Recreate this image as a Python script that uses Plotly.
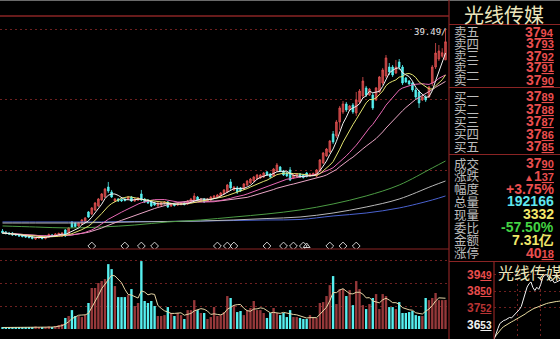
import numpy as np
import pandas as pd
import plotly.graph_objects as go

# ---------------- daily K-line data ----------------
opens = [14.25, 14.13, 14.00, 14.00, 13.81, 13.75, 13.69, 13.63, 13.50, 13.50,
         13.25, 13.38, 13.44, 13.31, 13.50, 13.75, 13.63, 13.81, 13.63, 14.38,
         13.88, 15.38, 15.25, 14.88, 15.13, 15.38, 16.63, 16.38, 16.88, 17.38,
         18.13, 18.50, 19.75, 19.13, 18.00, 18.25, 18.19, 18.25, 18.25, 18.50,
         18.00, 18.13, 18.88, 18.25, 18.13, 18.00, 17.75, 17.38, 17.50, 17.69,
         17.88, 17.38, 17.63, 17.50, 17.56, 17.75, 17.63, 17.88, 18.13, 18.50,
         18.00, 18.25, 18.00, 18.13, 18.38, 18.50, 18.63, 18.88, 19.13, 20.38,
         19.38, 19.63, 19.63, 19.50, 20.00, 20.25, 20.50, 20.75, 20.88, 21.00,
         21.63, 21.38, 21.13, 21.75, 22.25, 21.75, 21.50, 21.88, 20.88, 21.13,
         21.38, 21.25, 21.50, 21.13, 21.25, 21.13, 21.75, 22.75, 23.63, 24.13,
         26.38, 26.13, 27.88, 29.13, 30.13, 29.38, 30.00, 29.00, 30.38, 31.13,
         32.13, 31.25, 31.25, 30.63, 31.63, 32.75, 33.63, 34.75, 34.75, 34.00,
         35.38, 34.75, 33.38, 33.00, 32.75, 31.88, 31.63, 30.63, 31.00, 31.00,
         32.75, 34.75, 35.75, 36.10, 35.65]
closes = [14.00, 13.94, 13.88, 13.75, 13.75, 13.63, 13.56, 13.50, 13.44, 13.31,
          13.44, 13.50, 13.31, 13.63, 13.81, 13.63, 13.88, 13.94, 14.00, 13.63,
          14.63, 14.75, 14.81, 15.25, 15.63, 15.88, 16.00, 17.13, 17.75, 18.25,
          18.88, 19.50, 19.25, 18.50, 18.25, 18.00, 18.00, 18.06, 18.50, 18.00,
          18.25, 18.38, 18.13, 17.88, 17.75, 17.38, 17.50, 17.75, 17.81, 17.88,
          17.25, 17.63, 17.44, 17.69, 17.75, 17.56, 18.00, 18.25, 18.63, 18.13,
          18.25, 17.88, 18.25, 18.50, 18.63, 18.75, 19.00, 19.38, 20.00, 19.63,
          19.75, 19.13, 19.25, 20.13, 20.50, 20.75, 21.00, 21.25, 21.25, 21.50,
          21.25, 21.00, 22.00, 22.50, 21.75, 21.25, 21.13, 20.63, 21.25, 21.38,
          21.00, 20.94, 21.06, 21.38, 21.44, 21.88, 23.13, 24.00, 24.50, 25.50,
          25.38, 27.88, 29.63, 30.13, 29.38, 29.88, 29.13, 30.63, 31.75, 33.00,
          31.25, 32.00, 29.63, 32.13, 33.50, 34.38, 35.88, 34.13, 33.75, 34.75,
          34.75, 32.75, 32.88, 32.63, 31.88, 31.00, 30.25, 31.00, 30.63, 32.25,
          34.75, 36.50, 36.75, 36.53, 37.90]
highs = [14.50, 14.25, 14.13, 14.13, 13.94, 13.88, 13.81, 13.75, 13.63, 13.63,
         13.50, 13.63, 13.56, 13.75, 13.94, 13.88, 14.00, 14.06, 14.13, 14.50,
         14.75, 15.50, 15.38, 15.38, 15.75, 16.00, 16.75, 17.25, 17.88, 18.38,
         19.00, 19.63, 20.38, 19.38, 18.38, 18.38, 18.31, 18.38, 18.63, 18.63,
         18.38, 18.50, 19.38, 18.38, 18.25, 18.13, 17.88, 17.88, 17.94, 18.00,
         18.00, 17.75, 17.75, 17.81, 17.88, 17.88, 18.13, 18.38, 19.00, 18.63,
         18.38, 18.38, 18.38, 18.63, 18.75, 18.88, 19.13, 19.50, 20.13, 20.75,
         19.88, 19.88, 19.75, 20.25, 20.63, 20.88, 21.13, 21.38, 21.38, 21.63,
         21.75, 21.50, 22.13, 22.75, 22.38, 21.88, 21.63, 22.25, 21.38, 21.50,
         21.50, 21.38, 21.63, 21.50, 21.56, 22.00, 23.25, 24.13, 24.63, 25.63,
         26.75, 28.13, 29.88, 30.50, 30.38, 30.00, 30.25, 31.63, 32.00, 33.50,
         32.38, 32.13, 31.50, 32.25, 33.63, 34.63, 36.25, 35.25, 35.00, 35.63,
         35.75, 35.00, 33.50, 33.13, 32.88, 32.13, 31.88, 31.13, 31.25, 32.38,
         35.00, 37.75, 37.50, 37.10, 39.49]
lows = [13.88, 13.81, 13.75, 13.63, 13.63, 13.50, 13.44, 13.38, 13.31, 13.19,
        13.13, 13.25, 13.19, 13.19, 13.38, 13.50, 13.50, 13.69, 13.50, 13.50,
        13.75, 14.63, 14.69, 14.75, 15.00, 15.25, 15.88, 16.25, 16.75, 17.25,
        18.00, 18.38, 19.00, 18.38, 17.88, 17.88, 17.88, 17.94, 18.13, 17.88,
        17.88, 18.00, 18.00, 17.75, 17.63, 17.25, 17.38, 17.25, 17.38, 17.56,
        17.13, 17.25, 17.31, 17.38, 17.44, 17.44, 17.50, 17.75, 18.00, 18.00,
        17.88, 17.75, 17.88, 18.00, 18.25, 18.38, 18.50, 18.75, 19.00, 19.38,
        19.25, 18.88, 19.13, 19.38, 19.88, 20.13, 20.38, 20.63, 20.75, 20.88,
        21.13, 20.88, 21.00, 21.63, 21.63, 21.13, 21.00, 20.50, 20.75, 21.00,
        20.88, 20.81, 20.94, 21.00, 21.13, 21.00, 21.63, 22.63, 23.50, 24.00,
        25.13, 25.88, 26.88, 28.88, 29.13, 29.25, 28.88, 28.63, 30.13, 30.88,
        31.00, 31.13, 29.38, 30.50, 31.50, 32.50, 33.38, 33.75, 33.50, 33.88,
        34.38, 32.50, 32.75, 32.50, 31.63, 30.75, 29.63, 30.50, 30.38, 30.88,
        32.38, 34.50, 35.50, 35.90, 35.60]
# volume, 万手
volumes = [1.0, 1.0, 1.3, 1.0, 0.7, 1.0, 1.3, 1.0, 0.7, 1.3,
           1.7, 1.0, 1.0, 1.3, 1.7, 1.3, 2.0, 2.6, 3.3, 7.3,
           8.6, 12.5, 8.6, 8.6, 7.9, 9.2, 17.2, 27.1, 27.1, 30.4,
           31.7, 33.0, 42.9, 39.6, 28.4, 21.1, 21.1, 21.1, 22.4, 26.4,
           15.2, 17.2, 44.9, 18.5, 17.2, 18.5, 15.2, 8.6, 8.6, 9.2,
           14.5, 10.6, 8.6, 10.6, 9.2, 6.6, 12.5, 12.5, 19.1, 12.5,
           10.6, 10.6, 6.6, 7.9, 14.5, 8.6, 9.2, 11.2, 21.8, 20.5,
           15.8, 11.2, 11.9, 9.2, 12.5, 13.9, 18.5, 12.5, 12.5, 10.6,
           7.3, 10.6, 13.9, 10.6, 9.2, 10.6, 7.9, 12.5, 7.9, 7.9,
           7.3, 6.6, 6.6, 9.2, 7.9, 7.3, 17.2, 17.8, 21.8, 29.0,
           35.0, 16.5, 26.4, 26.4, 21.8, 25.7, 15.8, 31.7, 26.4, 15.8,
           13.2, 16.5, 20.5, 23.1, 13.2, 23.1, 21.8, 14.5, 14.5, 13.2,
           17.8, 10.6, 10.6, 11.2, 11.9, 9.2, 8.6, 8.6, 20.5, 19.1,
           20.5, 23.8, 19.1, 19.1, 19.22]

long_ma_days = [0, 10, 20, 30, 40, 50, 60, 70, 80, 90, 100, 110, 120, 130, 134]
ma60_vals = [14.88, 14.75, 14.63, 14.75, 15.00, 15.38, 15.63, 16.00, 16.38, 16.88,
             17.63, 18.63, 20.00, 22.13, 23.00]
ma120_vals = [15.25, 15.25, 15.25, 15.31, 15.38, 15.44, 15.50, 15.63, 15.81, 16.00,
              16.50, 17.25, 18.25, 19.88, 20.50]
ma250_vals = [15.38, 15.38, 15.38, 15.38, 15.44, 15.44, 15.50, 15.56, 15.63, 15.69,
              16.13, 16.50, 17.13, 18.13, 18.63]

signal_days = [27, 37, 42, 46, 65, 68, 70, 80, 85, 88, 91, 99, 103, 107]
signal_up_days = [92]

# ---------------- quote panel ----------------
ask_labels = ["卖五", "卖四", "卖三", "卖二", "卖一"]
ask_prices = [37.94, 37.93, 37.92, 37.91, 37.90]
bid_labels = ["买一", "买二", "买三", "买四", "买五"]
bid_prices = [37.89, 37.88, 37.87, 37.86, 37.85]
stock_name = "光线传媒"
last_price = 37.90
change = 1.37
pct_change = 3.75
total_volume = 192166
current_volume = 3332
weibi = -57.50
amount_yi = 7.31
limit_up = 40.18

# ---------------- intraday mini chart ----------------
intraday_min = list(range(0, 175, 5))
intraday_price = [35.65, 36.05, 36.30, 36.60, 36.72, 36.78, 36.82, 36.90, 36.96, 36.93,
                  37.05, 37.15, 37.30, 37.42, 37.60, 38.00, 38.40, 38.75, 38.95, 39.05,
                  38.72, 38.55, 38.74, 38.62, 38.90, 39.30, 39.45, 39.49, 39.30, 39.10,
                  39.18, 39.00, 39.04, 39.10, 39.16]
intraday_avg = [35.75, 35.90, 36.05, 36.20, 36.32, 36.42, 36.50, 36.57, 36.64, 36.70,
                36.76, 36.82, 36.88, 36.94, 37.00, 37.08, 37.16, 37.25, 37.33, 37.40,
                37.46, 37.51, 37.56, 37.60, 37.64, 37.69, 37.74, 37.78, 37.81, 37.84,
                37.86, 37.88, 37.90, 37.91, 37.93]
mini_levels = [39.49, 38.50, 37.52, 36.53]
mini_level_colors = ["#e84c4c", "#e84c4c", "#b83434", "#f0f0f0"]

# ---------------- figure ----------------
W, H = 560, 339
def PX(x): return x / W
def PY(y): return 1 - y / H

RED_LINE = "#8a2424"
GRID = "#6e2020"
UP_LINE, UP_FILL = "#e25252", "#b23c3c"
DN = "#56f0f0"

n = len(closes)
days = list(range(n))
cl = pd.Series(closes)
ma5 = cl.rolling(5, min_periods=1).mean()
ma10 = cl.rolling(10, min_periods=1).mean()
ma20 = cl.rolling(20, min_periods=1).mean()
ma30 = cl.rolling(30, min_periods=1).mean()
vol_ma5 = pd.Series(volumes).rolling(5, min_periods=1).mean()
up = [c >= o for o, c in zip(opens, closes)]

fig = go.Figure()

# long MAs
for vals, col in [(ma250_vals, "#4a62d0"), (ma120_vals, "#b8b8b8"), (ma60_vals, "#4c9c44")]:
    fig.add_trace(go.Scatter(x=long_ma_days, y=vals, mode="lines", line=dict(color=col, width=1, shape="spline"),
                             xaxis="x", yaxis="y", hoverinfo="skip"))

fig.add_trace(go.Candlestick(x=days, open=opens, high=highs, low=lows, close=closes,
                             increasing=dict(line=dict(color=UP_LINE, width=0.8), fillcolor=UP_FILL),
                             decreasing=dict(line=dict(color=DN, width=0.8), fillcolor=DN),
                             whiskerwidth=0, xaxis="x", yaxis="y", hoverinfo="skip"))

for s, col in [(ma30, "#eaa6c6"), (ma20, "#e868b4"), (ma10, "#e4e470"), (ma5, "#f2f2f2")]:
    fig.add_trace(go.Scatter(x=days, y=s, mode="lines", line=dict(color=col, width=1),
                             xaxis="x", yaxis="y", hoverinfo="skip"))

PRICE_LO, PRICE_HI = 12.0, 41.125
sig_y = PRICE_LO + 0.375
fig.add_trace(go.Scatter(x=signal_days, y=[sig_y] * len(signal_days), mode="markers",
                         marker=dict(symbol="diamond-open", size=6, color="#cfcfcf", line=dict(width=1)),
                         xaxis="x", yaxis="y", hoverinfo="skip"))
fig.add_trace(go.Scatter(x=signal_up_days, y=[sig_y] * len(signal_up_days), mode="markers",
                         marker=dict(symbol="triangle-up-open", size=6, color="#cfcfcf", line=dict(width=1)),
                         xaxis="x", yaxis="y", hoverinfo="skip"))

# volume
fig.add_trace(go.Bar(x=days, y=volumes, width=0.72,
                     marker=dict(color=["#96383a" if u else DN for u in up],
                                 line=dict(width=0)),
                     xaxis="x2", yaxis="y2", hoverinfo="skip"))
fig.add_trace(go.Scatter(x=days, y=vol_ma5, mode="lines", line=dict(color="#e6d6a6", width=1),
                         xaxis="x2", yaxis="y2", hoverinfo="skip"))

# intraday
fig.add_trace(go.Scatter(x=intraday_min, y=intraday_avg, mode="lines", line=dict(color="#e8dca0", width=1),
                         xaxis="x3", yaxis="y3", hoverinfo="skip"))
fig.add_trace(go.Scatter(x=intraday_min, y=intraday_price, mode="lines", line=dict(color="#f4f4f4", width=1),
                         xaxis="x3", yaxis="y3", hoverinfo="skip"))

x_dom = [0, PX(449)]
x_rng = [-0.76, 135.06]
fig.update_layout(
    width=W, height=H, margin=dict(l=0, r=0, t=0, b=0),
    paper_bgcolor="black", plot_bgcolor="black", showlegend=False,
    xaxis=dict(domain=x_dom, range=x_rng, visible=False, rangeslider=dict(visible=False)),
    yaxis=dict(domain=[PY(249), PY(16)], range=[PRICE_LO, PRICE_HI], tickvals=[21.875, 30.75, 39.5],
               showticklabels=False, ticks="", zeroline=False, showline=False,
               gridcolor=GRID, griddash="2px,3px", gridwidth=1),
    xaxis2=dict(domain=x_dom, range=x_rng, visible=False, anchor="y2"),
    yaxis2=dict(domain=[PY(329), PY(249)], range=[0, 52.9], tickvals=[15, 30, 45],
                showticklabels=False, ticks="", zeroline=False, showline=False,
                gridcolor=GRID, griddash="2px,3px", gridwidth=1, anchor="x2"),
    xaxis3=dict(domain=[PX(494), 1], range=[0, 169.6], tickvals=[60, 120], showticklabels=False, ticks="",
                zeroline=False, showline=False, gridcolor=GRID, griddash="2px,3px", anchor="y3"),
    yaxis3=dict(domain=[0, PY(264)], range=[35.69, 40.11], tickvals=mini_levels[:3], showticklabels=False,
                ticks="", zeroline=False, showline=False, gridcolor=GRID, griddash="2px,3px", anchor="x3"),
)

shapes = []
def hline(y, x0, x1, color=RED_LINE, w=1.2):
    shapes.append(dict(type="line", xref="paper", yref="paper", x0=PX(x0), x1=PX(x1), y0=PY(y), y1=PY(y),
                       line=dict(color=color, width=w)))
def vline(x, y0, y1, color=RED_LINE, w=1.2):
    shapes.append(dict(type="line", xref="paper", yref="paper", x0=PX(x), x1=PX(x), y0=PY(y0), y1=PY(y1),
                       line=dict(color=color, width=w)))
hline(0.5, 0, 560, "#6a6a6a", 1)
hline(16, 0, 449, RED_LINE, 1.6)
hline(249, 0, 449, RED_LINE, 1.2)
vline(449, 0, 339)
hline(24.5, 449, 560)
hline(87.5, 449, 560)
hline(154.5, 449, 560)
hline(261.5, 449, 560)
vline(494, 262, 339)
fig.update_layout(shapes=shapes)

ann = []
def text(x, y, s, color, size, family, xanchor="left"):
    ann.append(dict(x=PX(x), y=PY(y), xref="paper", yref="paper", text=s, showarrow=False,
                    xanchor=xanchor, yanchor="middle", borderpad=0,
                    font=dict(color=color, size=size, family=family)))

CJK = "Noto Sans CJK SC"
NUM = "Liberation Sans, Arial"
def price_html(p, small=11):
    a, b = f"{p:.2f}".split(".")
    return f"<b>{a}<span style='font-size:{small}px'><u>{b}</u></span></b>"

text(504, 14.5, stock_name, "#ece6bc", 20, CJK, "center")

LAB = 12.5
ask_rows = [31.5, 43.5, 55.5, 67.5, 79.5]
bid_rows = [96.5, 108.8, 121.2, 133.6, 146.0]
for lab, p, y in zip(ask_labels, ask_prices, ask_rows):
    text(453, y, lab, "#bdbdbd", LAB, CJK)
    text(555, y, price_html(p), "#ea4e4e", 14, NUM, "right")
for lab, p, y in zip(bid_labels, bid_prices, bid_rows):
    text(453, y, lab, "#bdbdbd", LAB, CJK)
    text(555, y, price_html(p), "#ea4e4e", 14, NUM, "right")

a_ch, b_ch = f"{change:.2f}".split(".")
stats = [
    ("成交", price_html(last_price), "#ea4e4e"),
    ("涨跌", f"<span style='font-size:10px'>▲</span><b>{a_ch}<span style='font-size:11px'><u>{b_ch}</u></span></b>", "#ea4e4e"),
    ("幅度", f"<b>{pct_change:+.2f}%</b>", "#ea4e4e"),
    ("总量", f"<b>{total_volume}</b>", "#5ee6ee"),
    ("现量", f"<b>{current_volume}</b>", "#f2e86a"),
    ("委比", f"<b>{weibi:+.2f}%</b>", "#44d444"),
    ("金额", f"<b>{amount_yi:.2f}亿</b>", "#f2e86a"),
    ("涨停", price_html(limit_up), "#ea4e4e"),
]
stat_rows = [163, 175.8, 188.6, 201.4, 214.2, 227, 239.8, 252.6]
for (lab, val, col), y in zip(stats, stat_rows):
    text(453, y, lab, "#bdbdbd", LAB, CJK)
    text(555, y, val, col, 14, NUM, "right")

# mini chart labels & title
for lv, col in zip(mini_levels, mini_level_colors):
    ann.append(dict(x=PX(493), y=lv, xref="paper", yref="y3", text=price_html(lv, 10), showarrow=False,
                    xanchor="right", yanchor="middle", borderpad=0,
                    font=dict(color=col, size=12, family=NUM)))
text(497, 272, stock_name, "#ece6bc", 16, CJK)

# max price tag
ann.append(dict(x=days[-1], y=max(highs), xref="x", yref="y", text=f"{max(highs):.2f}/", showarrow=False,
                xanchor="right", yanchor="middle", xshift=2, yshift=-3, borderpad=0,
                font=dict(color="#e6e6e6", size=9, family="DejaVu Sans Mono")))
fig.update_layout(annotations=ann)

fig.write_html("out.html", config={"displayModeBar": False})
